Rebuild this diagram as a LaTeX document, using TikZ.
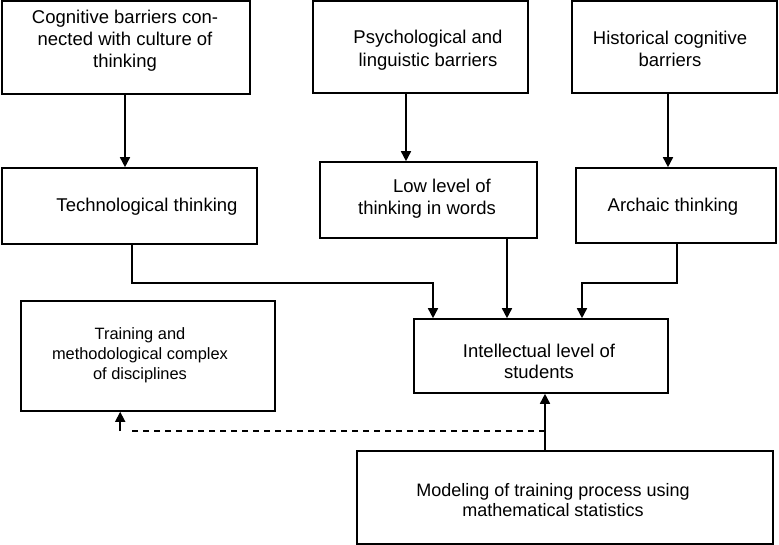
\documentclass[tikz,border=0pt]{standalone}
\usepackage{fontspec}
\setmainfont{Liberation Sans}
\usetikzlibrary{arrows.meta,calc}
\begin{document}
\begin{tikzpicture}[x=1pt,y=-1pt,
  boxnode/.style={draw=black,line width=1.6pt,rectangle,inner sep=0pt},
  txt/.style={inner sep=0pt,align=center,font=\fontsize{18.5}{22}\selectfont},
  arr/.style={line width=1.6pt,-{Triangle[length=10pt,width=10pt]}},
  dashline/.style={line width=1.6pt,dash pattern=on 6pt off 5pt}]
\useasboundingbox (0,0) rectangle (779,545);
% boxes
\node[boxnode,minimum width=248pt,minimum height=93pt] (A) at (126,47.5) {};
\node[boxnode,minimum width=215pt,minimum height=92pt] (B) at (420.5,47) {};
\node[boxnode,minimum width=205pt,minimum height=92pt] (C) at (674.5,47) {};
\node[boxnode,minimum width=255pt,minimum height=76pt] (D) at (129.5,206) {};
\node[boxnode,minimum width=217pt,minimum height=76pt] (E) at (428.5,200) {};
\node[boxnode,minimum width=200pt,minimum height=75pt] (F) at (676,205.5) {};
\node[boxnode,minimum width=254pt,minimum height=110pt] (G) at (148,356) {};
\node[boxnode,minimum width=254pt,minimum height=74pt] (H) at (541,356) {};
\node[boxnode,minimum width=416pt,minimum height=93pt] (I) at (565,497.5) {};
% texts
\node[txt] (tA) at (125,41) {Cognitive barriers con-\\nected with culture of\\thinking};
\node[txt,font=\fontsize{18.5}{23}\selectfont] (tB) at (428,50) {Psychological and\\linguistic barriers};
\node[txt] (tC) at (670,49) {Historical cognitive\\barriers};
\node[txt] (tD) at (147,207) {Technological thinking};
\node[txt] (tE) at (427,199) {\hspace*{30pt}Low level of\\thinking in words};
\node[txt] (tF) at (673,207) {Archaic thinking};
\node[txt,font=\fontsize{16.4}{20}\selectfont] (tG) at (140,355) {Training and\\methodological complex\\of disciplines};
\node[txt,font=\fontsize{18.5}{21}\selectfont] (tH) at (539,361) {Intellectual level of\\students};
\node[txt,font=\fontsize{18}{20.5}\selectfont] (tI) at (553,500) {Modeling of training process using\\mathematical statistics};
% connectors
\draw[arr] ([xshift=-1pt]A.south) -- ([xshift=-1pt]A.south |- D.north);
\draw[arr] ([xshift=-14.5pt]B.south) -- ([xshift=-14.5pt]B.south |- E.north);
\draw[arr] ([xshift=-6.5pt]C.south) -- ([xshift=-6.5pt]C.south |- F.north);
\draw[arr] ([xshift=2.5pt]D.south) |- ++(0,38) -| ([xshift=-108pt]H.north);
\draw[arr] ([xshift=78.5pt]E.south) -- ([xshift=78.5pt]E.south |- H.north);
\draw[arr] ([xshift=1pt]F.south) |- ++(0,39) -| ([xshift=41pt]H.north);
\draw[arr] ([xshift=-20pt]I.north) -- ([xshift=-20pt]I.north |- H.south);
\coordinate (dj) at ($(I.north)+(-20,-19)$);
\coordinate (dk) at ([xshift=100pt]G.south west |- dj);
\draw[dashline] (dj) -- ($(dk)+(11,0)$);
\draw[arr] (dk) -- ([xshift=100pt]G.south west);
\end{tikzpicture}
\end{document}
